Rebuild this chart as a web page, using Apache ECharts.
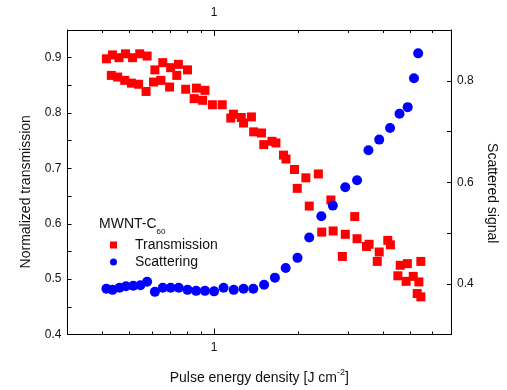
<!DOCTYPE html>
<html>
<head>
<meta charset="utf-8">
<script src="https://cdn.jsdelivr.net/npm/echarts@6/dist/echarts.min.js"></script>
<style>
  html, body { margin: 0; padding: 0; background: #fff; }
  #chart { width: 507px; height: 390px; }
</style>
</head>
<body>
<div id="chart"></div>
<script>
// 数据：透射 (red squares)
const transX = [0.413, 0.434, 0.458, 0.483, 0.512, 0.543, 0.577, 0.615, 0.656, 0.700, 0.746, 0.736, 0.804,
  0.430, 0.453, 0.480, 0.507, 0.538, 0.572, 0.608, 0.646, 0.694, 0.792, 0.865, 0.849, 0.928, 0.910,
  0.986, 1.069, 1.147, 1.172, 1.250, 1.274, 1.359, 1.384, 1.476, 1.504, 1.609, 1.662, 1.768, 1.805,
  1.936, 1.980, 2.125, 2.355, 2.185, 2.610, 2.421, 2.659, 2.938, 3.175, 3.236, 2.868, 3.497, 3.573,
  3.882, 3.820, 4.165, 4.256, 4.613, 4.892, 4.524, 4.842, 5.134, 5.377, 5.464, 5.303, 5.464]
const transY = [0.898, 0.905, 0.900, 0.907, 0.900, 0.907, 0.903, 0.878, 0.891, 0.882, 0.888, 0.868, 0.878,
  0.868, 0.865, 0.859, 0.854, 0.852, 0.839, 0.856, 0.859, 0.847, 0.843, 0.845, 0.826, 0.841, 0.823,
  0.815, 0.815, 0.791, 0.798, 0.792, 0.782, 0.793, 0.766, 0.764, 0.743, 0.749, 0.746, 0.724, 0.717,
  0.698, 0.664, 0.683, 0.690, 0.632, 0.643, 0.585, 0.587, 0.581, 0.613, 0.573, 0.541, 0.559, 0.563,
  0.549, 0.532, 0.570, 0.562, 0.525, 0.528, 0.506, 0.496, 0.505, 0.495, 0.532, 0.474, 0.468]

// 数据：散射 (blue circles)
const scatX = [0.413, 0.434, 0.460, 0.485, 0.515, 0.546, 0.577, 0.615, 0.656, 0.700, 0.748, 0.804,
  0.863, 0.928, 1.000, 1.081, 1.175, 1.274, 1.380, 1.508, 1.648, 1.801, 1.984, 2.185, 2.413, 2.652,
  2.938, 3.236, 3.553, 3.882, 4.243, 4.587, 4.905, 5.164, 5.346]
const scatY = [0.390, 0.388, 0.392, 0.395, 0.396, 0.397, 0.404, 0.384, 0.392, 0.392, 0.392, 0.388,
  0.386, 0.386, 0.385, 0.392, 0.388, 0.390, 0.390, 0.398, 0.412, 0.431, 0.451, 0.491, 0.533, 0.554,
  0.590, 0.604, 0.663, 0.684, 0.707, 0.735, 0.748, 0.805, 0.854]

// 坐标轴刻度
const xMajorTicks = [1]
const xMinorTicks = [0.4, 0.5, 0.6, 0.7, 0.8, 0.9, 2, 3, 4, 5, 6]

const font = "'Liberation Sans', Arial, sans-serif"
const textColor = '#111'

const chart = echarts.init(document.getElementById('chart'))

const lineStyle = { color: '#000', width: 1 }

const xBase = {
  type: 'log',
  logBase: 10,
  min: 0.3,
  max: 7,
  splitLine: { show: false },
  axisLine: { lineStyle }
}

chart.setOption({
  animation: false,
  grid: { left: 67.5, right: 48, top: 30, bottom: 49 },
  title: {
    text: '{a|MWNT-C}{b|60}',
    left: 94,
    top: 207,
    textStyle: {
      fontWeight: 'normal',
      rich: {
        a: { fontSize: 14, fontFamily: font, color: textColor },
        b: { fontSize: 8, fontFamily: font, color: textColor, padding: [16, 0, 0, 0] }
      }
    }
  },
  legend: {
    orient: 'vertical',
    left: 105,
    top: 233,
    itemWidth: 7,
    itemHeight: 7,
    itemGap: 3,
    textStyle: { fontSize: 14, fontFamily: font, color: textColor, padding: [0, 0, 0, 13] },
    data: [
      { name: 'Transmission', icon: 'rect' },
      { name: 'Scattering', icon: 'circle' }
    ]
  },
  xAxis: [
    {
      ...xBase,
      position: 'bottom',
      name: 'Pulse energy density [J cm{sup|-2}]',
      nameLocation: 'middle',
      nameGap: 34,
      nameTextStyle: {
        fontSize: 14, fontFamily: font, color: textColor,
        rich: { sup: { fontSize: 9, fontFamily: font, color: textColor, padding: [0, 0, 10, 0] } }
      },
      axisTick: { inside: true, length: 6, lineStyle, customValues: xMajorTicks },
      axisLabel: { customValues: xMajorTicks, fontSize: 12, fontFamily: font, color: textColor, margin: 7, formatter: v => String(v) }
    },
    {
      ...xBase,
      position: 'bottom',
      axisTick: { inside: true, length: 3, lineStyle, customValues: xMinorTicks },
      axisLabel: { show: false }
    },
    {
      ...xBase,
      position: 'top',
      axisTick: { inside: true, length: 6, lineStyle, customValues: xMajorTicks },
      axisLabel: { customValues: xMajorTicks, fontSize: 12, fontFamily: font, color: textColor, margin: 11, formatter: v => String(v) }
    },
    {
      ...xBase,
      position: 'top',
      axisTick: { inside: true, length: 3, lineStyle, customValues: xMinorTicks },
      axisLabel: { show: false }
    }
  ],
  yAxis: [
    {
      type: 'value',
      position: 'left',
      min: 0.4,
      max: 0.95,
      interval: 0.05,
      name: 'Normalized transmission',
      nameLocation: 'middle',
      nameGap: 34,
      nameTextStyle: { fontSize: 14, fontFamily: font, color: textColor, padding: [0, 19, 0, 0] },
      splitLine: { show: false },
      axisLine: { show: true, lineStyle },
      axisTick: { inside: true, length: 4, lineStyle },
      axisLabel: {
        fontSize: 12, fontFamily: font, color: textColor, margin: 6,
        formatter: v => Math.abs(v * 10 - Math.round(v * 10)) < 1e-6 ? v.toFixed(1) : ''
      }
    },
    {
      type: 'value',
      position: 'right',
      min: 0.3,
      max: 0.9,
      interval: 0.1,
      name: 'Scattered signal',
      nameLocation: 'middle',
      nameGap: 34,
      nameRotate: -90,
      nameTextStyle: { fontSize: 14, fontFamily: font, color: textColor, padding: [0, 0, 0, 22] },
      splitLine: { show: false },
      axisLine: { show: true, lineStyle },
      axisTick: { inside: true, length: 4, lineStyle },
      axisLabel: {
        fontSize: 12, fontFamily: font, color: textColor, margin: 6,
        formatter: v => [4, 6, 8].includes(Math.round(v * 10)) ? v.toFixed(1) : ''
      }
    }
  ],
  series: [
    {
      name: 'Transmission',
      type: 'scatter',
      xAxisIndex: 0,
      yAxisIndex: 0,
      symbol: 'rect',
      symbolSize: 9,
      itemStyle: { color: '#ff0000', opacity: 1 },
      data: transX.map((x, i) => [x, transY[i]])
    },
    {
      name: 'Scattering',
      type: 'scatter',
      xAxisIndex: 0,
      yAxisIndex: 1,
      symbol: 'circle',
      symbolSize: 10,
      itemStyle: { color: '#0000ff', opacity: 1 },
      data: scatX.map((x, i) => [x, scatY[i]])
    }
  ]
})
</script>
</body>
</html>
